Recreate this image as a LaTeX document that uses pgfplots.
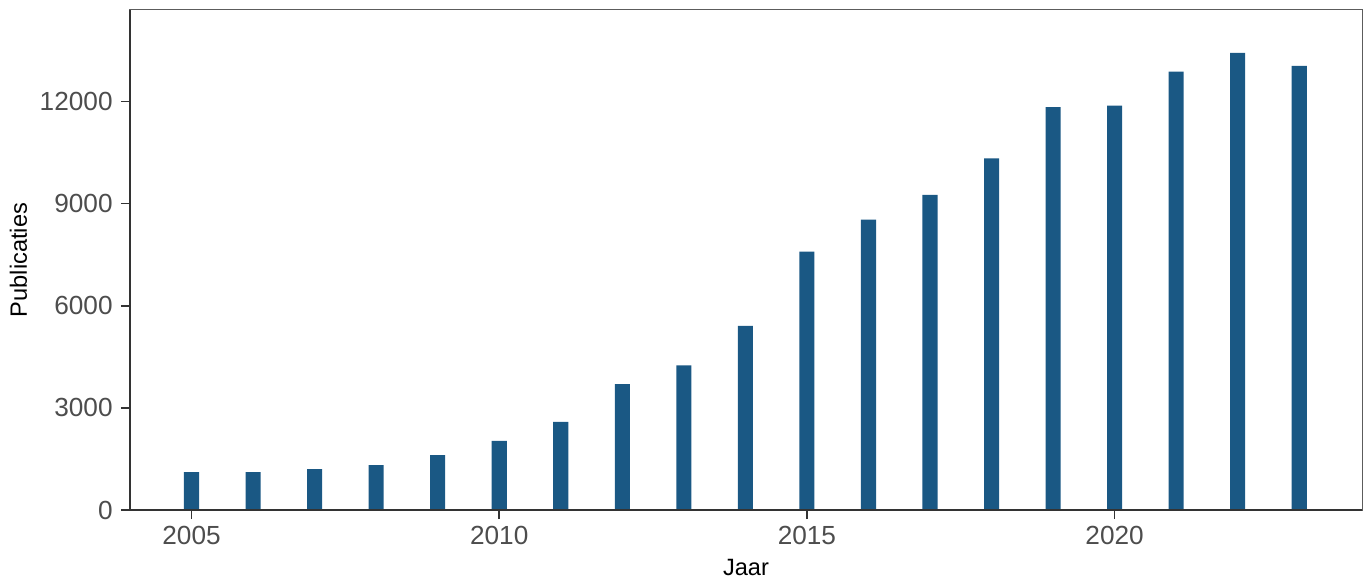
\documentclass[border=0pt]{standalone}
\usepackage{fontspec}
\setmainfont{Liberation Sans}
\usepackage{pgfplots}
\pgfplotsset{compat=1.18}
\usetikzlibrary{calc}
\definecolor{barcol}{RGB}{26,88,132}
\definecolor{tickgray}{RGB}{77,77,77}
\definecolor{framegray}{RGB}{51,51,51}
\begin{document}
\begin{tikzpicture}
\begin{axis}[
  scale only axis,
  width=616pt, height=250pt,
  xmin=2004, xmax=2024.02,
  ymin=0, ymax=14690,
  xtick={2005,2010,2015,2020},
  ytick={0,3000,6000,9000,12000},
  scaled y ticks=false,
  /pgf/number format/.cd, 1000 sep={}, assume math mode=true,
  /pgfplots/.cd,
  tick align=outside,
  major tick length=4.5pt,
  tick style={color=framegray, line width=0.8pt},
  xtick pos=bottom, ytick pos=left,
  axis line style={color=framegray!80, line width=0.5pt},
  ticklabel style={font=\fontsize{13.1pt}{14pt}\selectfont, color=tickgray},
  xticklabel style={anchor=north, inner sep=0pt, yshift=-3.5pt},
  yticklabel style={anchor=east, inner sep=0pt, xshift=-4pt},
  label style={font=\fontsize{11.8pt}{13pt}\selectfont, color=black},
  xlabel={Jaar},
  ylabel={Publicaties},
  xlabel style={at={(axis description cs:0.5,-0.13)}, anchor=base},
  ylabel style={at={(axis description cs:-0.0836,0.5)}, anchor=base, rotate=0},
  ybar, bar width=0.245,
  clip=false,
]
\addplot[fill=barcol, draw=none] coordinates {
(2005,1110) (2006,1110) (2007,1200) (2008,1320) (2009,1610)
(2010,2030) (2011,2590) (2012,3700) (2013,4250) (2014,5410)
(2015,7590) (2016,8530) (2017,9255) (2018,10330) (2019,11840)
(2020,11880) (2021,12880) (2022,13430) (2023,13050)
};
\draw[color=framegray, line width=0.9pt] (rel axis cs:0,1) -- (rel axis cs:0,0) -- (rel axis cs:1,0);
\coordinate (ll) at (rel axis cs:0,0);
\coordinate (ur) at (rel axis cs:1,1);
\end{axis}
\pgfresetboundingbox
\path[use as bounding box] ($(ll)+(-65pt,-37pt)$) rectangle ($(ur)+(2.5pt,5pt)$);
\end{tikzpicture}
\end{document}
